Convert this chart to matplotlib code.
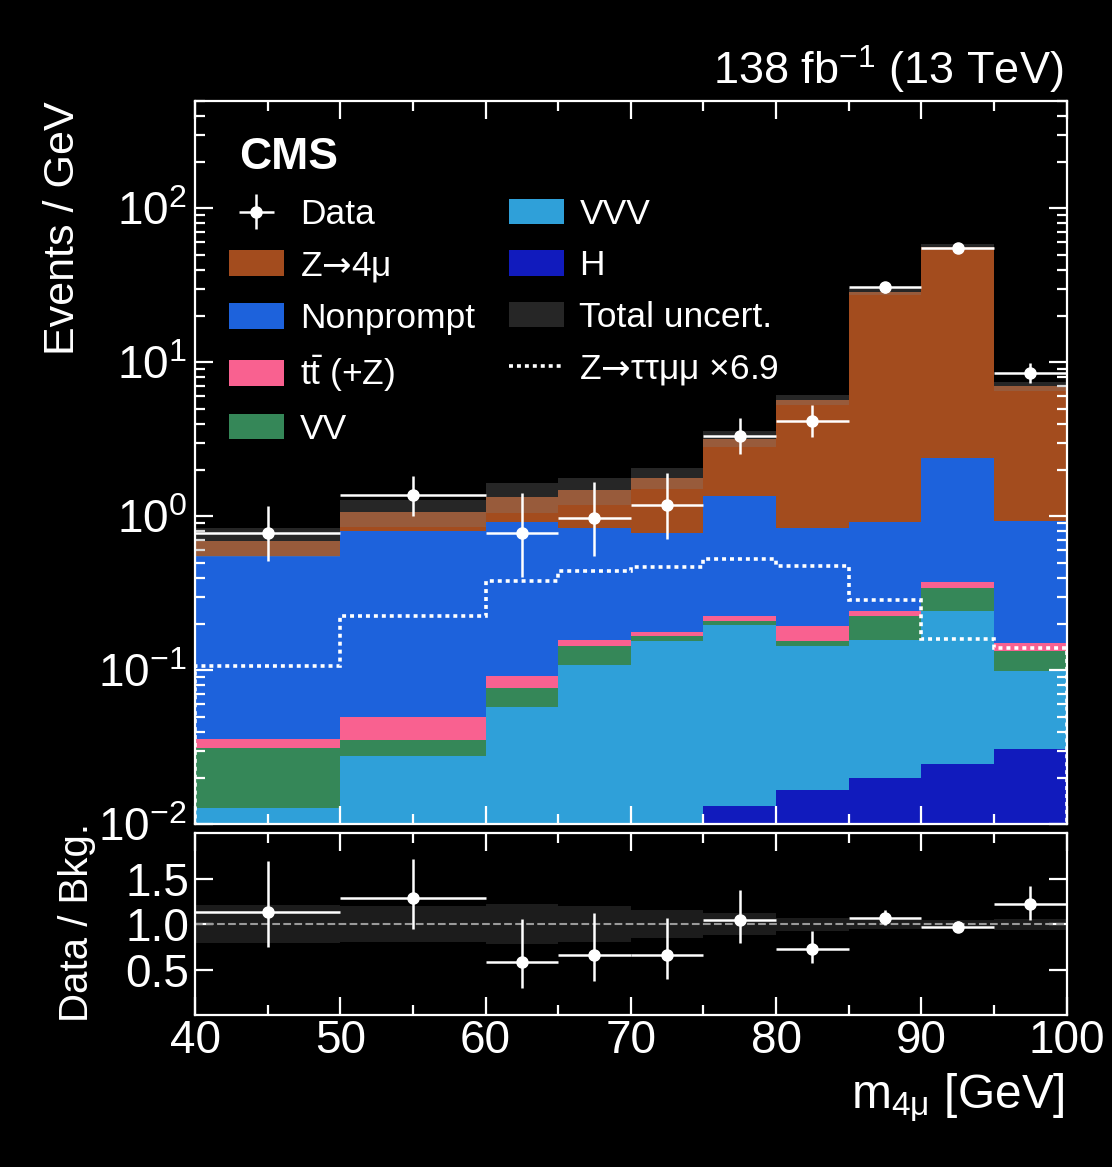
import numpy as np
import matplotlib.pyplot as plt
from matplotlib.patches import Patch
from matplotlib.lines import Line2D
from matplotlib.ticker import MultipleLocator, LogLocator, NullFormatter

plt.rcParams['font.family'] = ['Liberation Sans', 'DejaVu Sans']
plt.rcParams['mathtext.fontset'] = 'custom'
plt.rcParams['mathtext.rm'] = 'Liberation Sans'
plt.rcParams['mathtext.it'] = 'Liberation Sans:italic'
plt.rcParams['mathtext.bf'] = 'Liberation Sans:bold'
plt.rcParams['mathtext.sf'] = 'DejaVu Sans'
plt.rcParams['mathtext.default'] = 'regular'

# binning in m_4mu [GeV]
edges = np.array([40, 50, 60, 65, 70, 75, 80, 85, 90, 95, 100])

# background yields, events / GeV
h_yield = np.array([0, 0, 0, 0, 0, 0.0131, 0.0168, 0.0201, 0.0248, 0.0306])
vvv_yield = np.array([0.0127, 0.0277, 0.0578, 0.109, 0.154, 0.185, 0.128, 0.138, 0.217, 0.068])
vv_yield = np.array([0.0185, 0.0078, 0.0194, 0.034, 0.013, 0.012, 0.011, 0.067, 0.100, 0.034])
tt_yield = np.array([0.0044, 0.014, 0.0142, 0.0136, 0.009, 0.015, 0.037, 0.016, 0.035, 0.018])
nonprompt_yield = np.array([0.514, 0.754, 0.827, 0.688, 0.608, 1.124, 0.647, 0.673, 2.013, 0.778])
z4mu_yield = np.array([0.139, 0.263, 0.424, 0.630, 0.986, 1.83, 4.87, 27.9, 54.1, 6.05])

# relative total uncertainty on the background
rel_unc = np.array([0.21, 0.20, 0.22, 0.195, 0.155, 0.12, 0.073, 0.05, 0.045, 0.06])

# signal Z -> tau tau mu mu, scaled x6.9
ztt_yield = np.array([0.1067, 0.2265, 0.378, 0.440, 0.471, 0.525, 0.473, 0.288, 0.160, 0.139])

# data
data = np.array([0.784, 1.375, 0.784, 0.981, 1.179, 3.33, 4.16, 30.9, 55.0, 8.52])
data_up = np.array([0.38, 0.46, 0.63, 0.68, 0.72, 1.03, 1.10, 2.5, 3.3, 1.37])
data_dn = np.array([0.27, 0.37, 0.38, 0.43, 0.47, 0.81, 0.90, 2.5, 3.3, 1.23])

colors = {
    'Z': '#A34C1E', 'NP': '#1D62DC', 'tt': '#F96190',
    'VV': '#358758', 'VVV': '#2FA0D9', 'H': '#111BBD',
}

centers = 0.5 * (edges[1:] + edges[:-1])
halfw = 0.5 * (edges[1:] - edges[:-1])

fig = plt.figure(figsize=(11.12, 11.67), dpi=100, facecolor='black')
ax = fig.add_axes([0.1754, 0.2937, 0.7837, 0.62])
rax = fig.add_axes([0.1754, 0.1302, 0.7837, 0.1558])

for a in (ax, rax):
    a.set_facecolor('black')
    for s in a.spines.values():
        s.set_color('white')
        s.set_linewidth(1.6)

# stacked backgrounds, bottom to top
stack = [(h_yield, colors['H']), (vvv_yield, colors['VVV']), (vv_yield, colors['VV']),
         (tt_yield, colors['tt']), (nonprompt_yield, colors['NP']), (z4mu_yield, colors['Z'])]
base = np.full(len(centers), 1e-6)
for vals, col in stack:
    top = base + vals
    ax.stairs(top, edges, baseline=base, fill=True, color=col, lw=0, zorder=1)
    base = top
total = base

ax.stairs(total * (1 + rel_unc), edges, baseline=total * (1 - rel_unc), fill=True,
          color='#808080', alpha=0.3, lw=0, zorder=2)
ax.stairs(ztt_yield, edges, baseline=1e-6, color='white', lw=2.6,
          linestyle=(0, (1.1, 1.1)), zorder=3)
data_h = ax.errorbar(centers, data, xerr=halfw, yerr=[data_dn, data_up], fmt='o',
                     color='white', ms=8, elinewidth=1.8, capsize=0, zorder=5)

ax.set_yscale('log')
ax.set_ylim(0.01, 500)
ax.set_xlim(40, 100)

# ratio panel
ratio = data / total
rax.stairs(1 + rel_unc, edges, baseline=1 - rel_unc, fill=True,
           color='#808080', alpha=0.22, lw=0)
rax.axhline(1.0, color='#9a9a9a', ls='--', lw=1.5)
rax.errorbar(centers, ratio, xerr=halfw, yerr=[data_dn / total, data_up / total],
             fmt='o', color='white', ms=8, elinewidth=1.8, capsize=0)
rax.set_xlim(40, 100)
rax.set_ylim(0, 2)
rax.set_yticks([0.5, 1.0, 1.5])

for a in (ax, rax):
    a.xaxis.set_major_locator(MultipleLocator(10))
    a.xaxis.set_minor_locator(MultipleLocator(5))
    a.tick_params(which='both', direction='in', top=True, right=True,
                  colors='white', width=1.6, labelsize=33)
    a.tick_params(which='major', length=13)
    a.tick_params(which='minor', length=7)
    a.tick_params(axis='x', pad=3)
    a.tick_params(axis='y', pad=6)
ax.yaxis.set_minor_locator(LogLocator(base=10, subs=np.arange(2, 10), numticks=20))
ax.yaxis.set_minor_formatter(NullFormatter())
ax.tick_params(labelbottom=False)
rax.tick_params(axis='y', pad=4)

# labels
fig.text(63 / 1112, 1 - 101 / 1167, 'Events / GeV', rotation=90, ha='center', va='top',
         color='white', fontsize=31)
fig.text(77 / 1112, 1 - 922 / 1167, 'Data / Bkg.', rotation=90, ha='center', va='center',
         color='white', fontsize=29)
fig.text(1065 / 1112, 1 - 1108 / 1167, 'm$_{4μ}$ [GeV]', ha='right', va='baseline',
         color='white', fontsize=34.5)
fig.text(1063 / 1112, 1 - 85 / 1167, '138 fb$^{-1}$ (13 TeV)', ha='right', va='baseline',
         color='white', fontsize=32.5)
ax.text((239 - 195) / 871.5, (824.3 - 169) / 723.6, 'CMS', transform=ax.transAxes,
        ha='left', va='baseline', color='white', fontsize=32, fontweight='bold')

handles = [
    data_h,
    Patch(facecolor=colors['Z']),
    Patch(facecolor=colors['NP']),
    Patch(facecolor=colors['tt']),
    Patch(facecolor=colors['VV']),
    Patch(facecolor=colors['VVV']),
    Patch(facecolor=colors['H']),
    Patch(facecolor='#808080', alpha=0.3),
    Line2D([], [], color='white', lw=2.6, linestyle=(0, (1.1, 1.1))),
]
labels = ['Data', r'Z$\mathsf{→}$4μ', 'Nonprompt', r't$\bar{\mathrm{t}}$ (+Z)', 'VV',
          'VVV', 'H', 'Total uncert.', r'Z$\mathsf{→}$ττμμ ×6.9']
leg = ax.legend(handles, labels, ncol=2, frameon=False, fontsize=25.5, loc='upper left',
                bbox_to_anchor=((229 - 195) / 871.5, (824.3 - 198) / 723.6),
                borderpad=0, borderaxespad=0, handlelength=1.55, handleheight=0.72,
                labelspacing=0.52, columnspacing=0.95, handletextpad=0.45)
for t in leg.get_texts():
    t.set_color('white')

fig.savefig('out.png', dpi=100, facecolor='black')
